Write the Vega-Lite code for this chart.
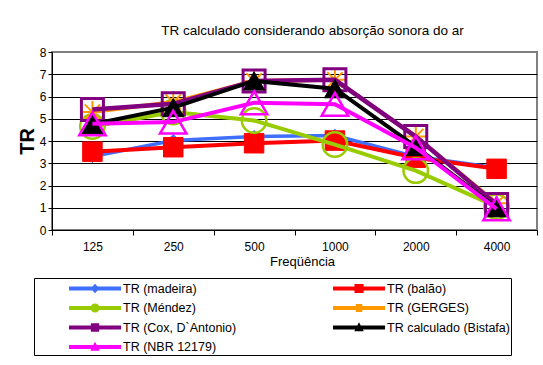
{
  "$schema": "https://vega.github.io/schema/vega-lite/v6.json",
  "width": 485,
  "height": 178,
  "autosize": "none",
  "padding": {"left": 52, "top": 52, "right": 6, "bottom": 135},
  "background": "white",
  "config": {
    "font": "Liberation Sans",
    "view": {"stroke": "#808080", "strokeWidth": 2}
  },
  "title": {
    "text": "TR calculado considerando absorção sonora do ar",
    "fontSize": 13.5,
    "fontWeight": "normal",
    "color": "black",
    "anchor": "middle",
    "frame": "group",
    "dx": 18,
    "dy": 18,
    "baseline": "alphabetic",
    "offset": 16
  },
  "data": {
    "values": [
      {"f": "125", "s": "TR (madeira)", "v": 3.3},
      {"f": "250", "s": "TR (madeira)", "v": 4.02},
      {"f": "500", "s": "TR (madeira)", "v": 4.2},
      {"f": "1000", "s": "TR (madeira)", "v": 4.25},
      {"f": "2000", "s": "TR (madeira)", "v": 3.3},
      {"f": "4000", "s": "TR (madeira)", "v": 2.8},
      {"f": "125", "s": "TR (balão)", "v": 3.52},
      {"f": "250", "s": "TR (balão)", "v": 3.72},
      {"f": "500", "s": "TR (balão)", "v": 3.9},
      {"f": "1000", "s": "TR (balão)", "v": 4.02},
      {"f": "2000", "s": "TR (balão)", "v": 3.25},
      {"f": "4000", "s": "TR (balão)", "v": 2.75},
      {"f": "125", "s": "TR (Méndez)", "v": 4.65},
      {"f": "250", "s": "TR (Méndez)", "v": 5.3},
      {"f": "500", "s": "TR (Méndez)", "v": 4.92},
      {"f": "1000", "s": "TR (Méndez)", "v": 3.84},
      {"f": "2000", "s": "TR (Méndez)", "v": 2.67},
      {"f": "4000", "s": "TR (Méndez)", "v": 1.05},
      {"f": "125", "s": "TR (GERGES)", "v": 5.3},
      {"f": "250", "s": "TR (GERGES)", "v": 5.75},
      {"f": "500", "s": "TR (GERGES)", "v": 6.7},
      {"f": "1000", "s": "TR (GERGES)", "v": 6.75},
      {"f": "2000", "s": "TR (GERGES)", "v": 4.2},
      {"f": "4000", "s": "TR (GERGES)", "v": 1.2},
      {"f": "125", "s": "TR (Cox, D`Antonio)", "v": 5.42},
      {"f": "250", "s": "TR (Cox, D`Antonio)", "v": 5.67},
      {"f": "500", "s": "TR (Cox, D`Antonio)", "v": 6.7},
      {"f": "1000", "s": "TR (Cox, D`Antonio)", "v": 6.75},
      {"f": "2000", "s": "TR (Cox, D`Antonio)", "v": 4.2},
      {"f": "4000", "s": "TR (Cox, D`Antonio)", "v": 1.15},
      {"f": "125", "s": "TR calculado (Bistafa)", "v": 4.75},
      {"f": "250", "s": "TR calculado (Bistafa)", "v": 5.5},
      {"f": "500", "s": "TR calculado (Bistafa)", "v": 6.7},
      {"f": "1000", "s": "TR calculado (Bistafa)", "v": 6.35},
      {"f": "2000", "s": "TR calculado (Bistafa)", "v": 3.75},
      {"f": "4000", "s": "TR calculado (Bistafa)", "v": 1.0},
      {"f": "125", "s": "TR (NBR 12179)", "v": 4.77},
      {"f": "250", "s": "TR (NBR 12179)", "v": 4.85},
      {"f": "500", "s": "TR (NBR 12179)", "v": 5.72},
      {"f": "1000", "s": "TR (NBR 12179)", "v": 5.65},
      {"f": "2000", "s": "TR (NBR 12179)", "v": 3.7},
      {"f": "4000", "s": "TR (NBR 12179)", "v": 0.95}
    ]
  },
  "encoding": {
    "x": {
      "field": "f",
      "type": "ordinal",
      "sort": ["125", "250", "500", "1000", "2000", "4000"],
      "scale": {"type": "band", "paddingInner": 0, "paddingOuter": 0},
      "axis": {
        "title": "Freqüência",
        "titleFontSize": 13,
        "titleFontWeight": "normal",
        "titleColor": "black",
        "titlePadding": 3,
        "titleX": 250,
        "labelAngle": 0,
        "labelFontSize": 12,
        "labelColor": "black",
        "labelPadding": 6,
        "tickBand": "extent",
        "tickSize": 5,
        "tickColor": "black",
        "domainColor": "black",
        "grid": false
      }
    },
    "y": {
      "field": "v",
      "type": "quantitative",
      "scale": {"domain": [0, 8], "nice": false},
      "axis": {
        "title": "TR",
        "titleFontSize": 20,
        "titleFontWeight": "bold",
        "titleColor": "black",
        "titlePadding": 2,
        "values": [0, 1, 2, 3, 4, 5, 6, 7, 8],
        "labelFontSize": 12,
        "labelColor": "black",
        "labelPadding": 2,
        "tickSize": 4,
        "tickColor": "black",
        "domainColor": "black",
        "grid": true,
        "gridColor": {"condition": {"test": "datum.value == 8 || datum.value == 0", "value": "#808080"}, "value": "black"},
        "gridOpacity": 1
      }
    }
  },
  "layer": [
    {
      "transform": [{"filter": "datum.s == 'TR (madeira)'"}],
      "mark": {"type": "line", "strokeWidth": 3.5},
      "encoding": {
        "color": {
          "field": "s",
          "type": "nominal",
          "scale": {
            "domain": ["TR (madeira)", "TR (balão)", "TR (Méndez)", "TR (GERGES)", "TR (Cox, D`Antonio)", "TR calculado (Bistafa)", "TR (NBR 12179)"],
            "range": ["#3F6FFF", "#FF0000", "#99CC00", "#FF9900", "#800080", "#000000", "#FF00FF"]
          },
          "legend": {
            "title": " ",
            "titleOrient": "left",
            "titlePadding": 34,
            "orient": "none",
            "legendX": -18,
            "legendY": 226,
            "direction": "horizontal",
            "columns": 2,
            "gridAlign": "all",
            "columnPadding": 87,
            "rowPadding": 3.5,
            "padding": 1,
            "strokeColor": "black",
            "fillColor": "white",
            "labelFontSize": 12.5,
            "labelColor": "black",
            "labelOffset": 35,
            "symbolSize": 361,
            "symbolStrokeWidth": 0,
            "encode": {
              "symbols": {
                "update": {
                  "fill": {"signal": "scale('color', datum.value)"},
                  "stroke": {"value": "transparent"},
                  "strokeWidth": {"value": 0},
                  "shape": {"signal": "datum.value == 'TR (madeira)' ? 'M-1,-0.21H4.48V0.21H-1Z M1.74,-0.5L2.2,0L1.74,0.5L1.28,0Z' : datum.value == 'TR (balão)' ? 'M-1,-0.21H4.48V0.21H-1Z M1.26,-0.48H2.22V0.48H1.26Z' : datum.value == 'TR (Méndez)' ? 'M-1,-0.21H4.48V0.21H-1Z M1.26,0A0.48,0.48 0 1,1 2.22,0A0.48,0.48 0 1,1 1.26,0Z' : datum.value == 'TR (GERGES)' ? 'M-1,-0.21H4.48V0.21H-1Z M1.4,-0.42H2.08V0.42H1.4Z' : datum.value == 'TR (NBR 12179)' || datum.value == 'TR calculado (Bistafa)' ? 'M-1,-0.21H4.48V0.21H-1Z M1.74,-0.55L2.24,0.4H1.24Z' : 'M-1,-0.21H4.48V0.21H-1Z M1.3,-0.45H2.18V0.45H1.3Z'"}
                }
              }
            }
          }
        }
      }
    },
    {
      "transform": [{"filter": "datum.s == 'TR (madeira)'"}],
      "mark": {"type": "point", "shape": "diamond", "size": 150, "filled": true, "fill": "#3F6FFF", "stroke": "#3F6FFF", "strokeWidth": 1, "opacity": 1}
    },
    {
      "transform": [{"filter": "datum.s == 'TR (balão)'"}],
      "mark": {"type": "line", "strokeWidth": 4},
      "encoding": {"color": {"field": "s", "type": "nominal"}}
    },
    {
      "transform": [{"filter": "datum.s == 'TR (balão)'"}],
      "mark": {"type": "point", "shape": "square", "size": 380, "filled": true, "fill": "#FF0000", "stroke": "#FF0000", "strokeWidth": 1, "opacity": 1}
    },
    {
      "transform": [{"filter": "datum.s == 'TR (Méndez)'"}],
      "mark": {"type": "line", "strokeWidth": 4},
      "encoding": {"color": {"field": "s", "type": "nominal"}}
    },
    {
      "transform": [{"filter": "datum.s == 'TR (Méndez)'"}],
      "mark": {"type": "point", "shape": "circle", "size": 600, "filled": false, "fill": "transparent", "stroke": "#99CC00", "strokeWidth": 2.5, "opacity": 1}
    },
    {
      "transform": [{"filter": "datum.s == 'TR (GERGES)'"}],
      "mark": {"type": "line", "strokeWidth": 4},
      "encoding": {"color": {"field": "s", "type": "nominal"}}
    },
    {
      "transform": [{"filter": "datum.s == 'TR (GERGES)'"}],
      "mark": {"type": "point", "shape": "M-1,0H1M0,-1V1M-0.7,-0.7L0.7,0.7M-0.7,0.7L0.7,-0.7", "size": 484, "filled": false, "fill": "transparent", "stroke": "#FF9900", "strokeWidth": 2, "opacity": 1}
    },
    {
      "transform": [{"filter": "datum.s == 'TR (Cox, D`Antonio)'"}],
      "mark": {"type": "line", "strokeWidth": 4.5},
      "encoding": {"color": {"field": "s", "type": "nominal"}}
    },
    {
      "transform": [{"filter": "datum.s == 'TR (Cox, D`Antonio)'"}],
      "mark": {"type": "point", "shape": "square", "size": 484, "filled": false, "fill": "transparent", "stroke": "#800080", "strokeWidth": 3, "opacity": 1}
    },
    {
      "transform": [{"filter": "datum.s == 'TR calculado (Bistafa)'"}],
      "mark": {"type": "line", "strokeWidth": 4},
      "encoding": {"color": {"field": "s", "type": "nominal"}}
    },
    {
      "transform": [{"filter": "datum.s == 'TR calculado (Bistafa)'"}],
      "mark": {"type": "point", "shape": "triangle-up", "size": 441, "filled": true, "fill": "#000000", "stroke": "#000000", "strokeWidth": 1, "opacity": 1}
    },
    {
      "transform": [{"filter": "datum.s == 'TR (NBR 12179)'"}],
      "mark": {"type": "line", "strokeWidth": 4},
      "encoding": {"color": {"field": "s", "type": "nominal"}}
    },
    {
      "transform": [{"filter": "datum.s == 'TR (NBR 12179)'"}],
      "mark": {"type": "point", "shape": "triangle-up", "size": 700, "filled": false, "fill": "transparent", "stroke": "#FF00FF", "strokeWidth": 2.5, "opacity": 1}
    }
  ]
}
